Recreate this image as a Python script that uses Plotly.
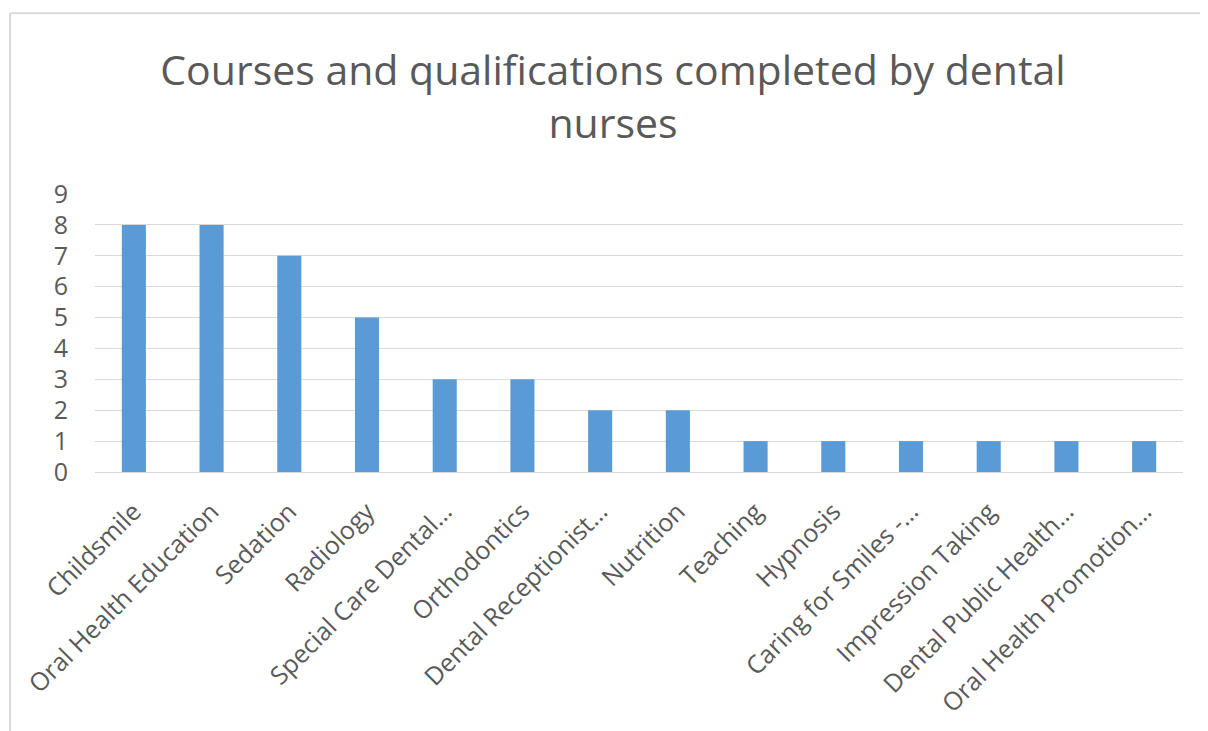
import plotly.graph_objects as go

categories = ["Childsmile", "Oral Health Education", "Sedation", "Radiology",
              "Special Care Dental…", "Orthodontics", "Dental Receptionist…",
              "Nutrition", "Teaching", "Hypnosis", "Caring for Smiles -…",
              "Impression Taking", "Dental Public Health…", "Oral Health Promotion…"]
values = [8, 8, 7, 5, 3, 3, 2, 2, 1, 1, 1, 1, 1, 1]
y_ticks = [0, 1, 2, 3, 4, 5, 6, 7, 8, 9]

# page body has an 8px margin; figure coords = screen coords - 8
W, H = 1200, 723
L, R, T, B = 87, 25, 186, 257

fig = go.Figure(go.Bar(x=categories, y=values, marker_color="#5B9BD5",
                       marker_line_width=0))

pw = W - L - R
ph = H - T - B
def px2x(px):
    return (px - L) / pw
def py2y(py):
    return (H - B - py) / ph

fig.update_layout(
    width=W, height=H,
    margin=dict(l=L, r=R, t=T, b=B),
    paper_bgcolor="white", plot_bgcolor="white",
    bargap=0.69,
    showlegend=False,
    font=dict(family="Open Sans", color="#595959"),
    title=dict(text="Courses and qualifications completed by dental<br>nurses",
               x=(613 - 8) / W, xanchor="center", xref="container",
               y=1 - 77 / H, yanchor="top", yref="container",
               font=dict(size=41, color="#595959", family="Open Sans")),
    xaxis=dict(tickangle=-45, tickfont=dict(size=25, color="#595959"),
               showgrid=False, showline=True, linecolor="#D9D9D9", linewidth=1,
               ticks="", ticklabelstandoff=14),
    yaxis=dict(range=[0, 9], tickvals=y_ticks, showgrid=True, gridcolor="#D9D9D9",
               gridwidth=1, zeroline=False, showline=False,
               tickfont=dict(size=25, color="#595959"), ticks="", ticklabelstandoff=26),
    shapes=[
        dict(type="line", xref="paper", yref="paper",
             x0=px2x(2), x1=px2x(2), y0=py2y(4), y1=py2y(740),
             line=dict(color="#D9D9D9", width=2)),
        dict(type="line", xref="paper", yref="paper",
             x0=px2x(2), x1=px2x(1215), y0=py2y(4), y1=py2y(4),
             line=dict(color="#D9D9D9", width=2)),
    ],
)

fig.write_html("out.html")
